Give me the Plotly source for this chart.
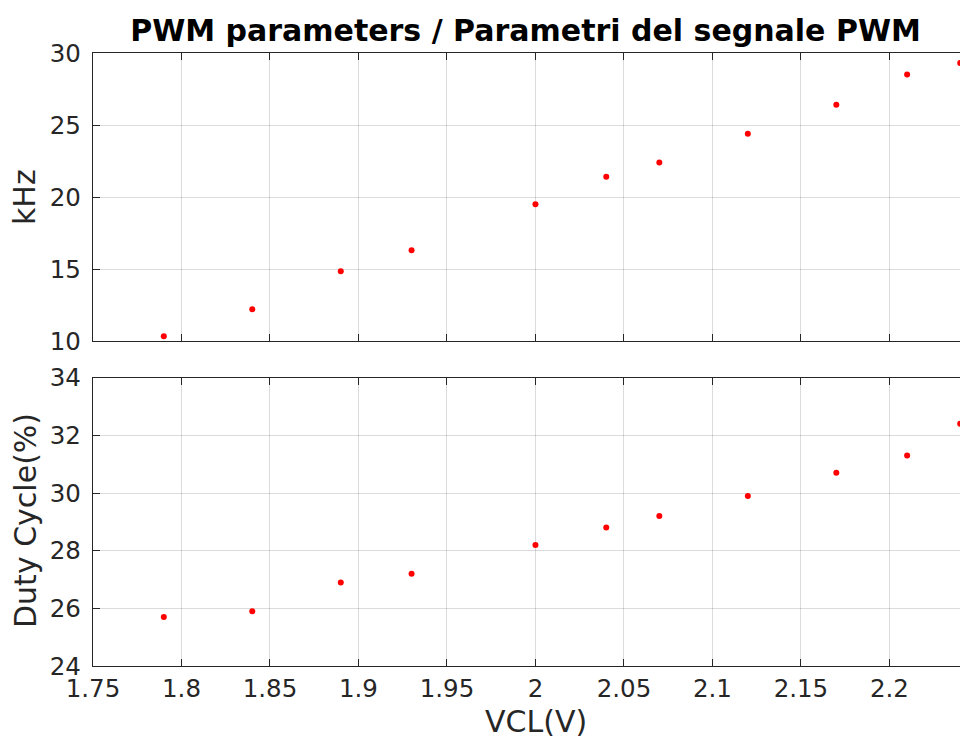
import plotly.graph_objects as go
from plotly.subplots import make_subplots

vcl = [1.79, 1.84, 1.89, 1.93, 2.00, 2.04, 2.07, 2.12, 2.17, 2.21, 2.24]
freq_khz = [10.33, 12.2, 14.85, 16.3, 19.5, 21.4, 22.4, 24.4, 26.4, 28.5, 29.3]
duty = [25.7, 25.9, 26.9, 27.2, 28.2, 28.8, 29.2, 29.9, 30.7, 31.3, 32.4]

x_ticks = [1.75, 1.8, 1.85, 1.9, 1.95, 2.0, 2.05, 2.1, 2.15, 2.2]
x_labels = ["1.75", "1.8", "1.85", "1.9", "1.95", "2", "2.05", "2.1", "2.15", "2.2"]
y1_ticks = [10, 15, 20, 25, 30]
y2_ticks = [24, 26, 28, 30, 32, 34]

title_text = "PWM parameters / Parametri del segnale PWM"
xlabel = "VCL(V)"
y1label = "kHz"
y2label = "Duty Cycle(%)"

FONT = "DejaVu Sans"
INK = "#262626"
GRID = "rgba(0,0,0,0.14)"

# page has an 8px body margin; figure is sized/offset to fill the window
OFF = 8
W, H = 968 - OFF, 740 - OFF
ML, MR, MT = 93 - OFF, 0, 53 - OFF
MB = H - (666 - OFF)
PW = W - ML - MR
PH = H - MT - MB


def px_x(page_x):
    return (page_x - OFF - ML) / PW


def px_y(page_y):
    return (H - MB - (page_y - OFF)) / PH


fig = make_subplots(rows=2, cols=1, shared_xaxes=False)

fig.add_trace(go.Scatter(x=vcl, y=freq_khz, mode="markers",
                         marker=dict(color="#ff0000", size=6),
                         showlegend=False, cliponaxis=False), row=1, col=1)
fig.add_trace(go.Scatter(x=vcl, y=duty, mode="markers",
                         marker=dict(color="#ff0000", size=6),
                         showlegend=False, cliponaxis=False), row=2, col=1)

top_dom = [px_y(341), 1.0]
bot_dom = [0.0, px_y(377.7)]

axis_common = dict(
    showline=True, linecolor=INK, linewidth=1.3,
    ticks="inside", ticklen=7, tickwidth=1.3, tickcolor=INK,
    showgrid=True, gridcolor=GRID, gridwidth=1,
    zeroline=False,
    tickfont=dict(family=FONT, size=24.5, color=INK),
)

fig.update_xaxes(range=[1.75, 2.2444], tickvals=x_ticks, ticktext=x_labels,
                 domain=[0, 1], mirror="ticks", **axis_common)
fig.update_xaxes(showticklabels=False, row=1, col=1)
fig.update_xaxes(ticklabelstandoff=0, row=2, col=1)

fig.update_yaxes(mirror=False, **axis_common)
fig.update_yaxes(range=[10, 30], tickvals=y1_ticks, domain=top_dom,
                 ticklabelstandoff=6, row=1, col=1)
fig.update_yaxes(range=[24, 34], tickvals=y2_ticks, domain=bot_dom,
                 ticklabelstandoff=6, row=2, col=1)

fig.update_layout(
    width=W, height=H,
    margin=dict(l=ML, r=MR, t=MT, b=MB, pad=0, autoexpand=False),
    paper_bgcolor="white", plot_bgcolor="white",
    font=dict(family=FONT, color=INK),
    title=dict(text="<b>" + title_text + "</b>", x=(525.5 - OFF) / W,
               xanchor="center", xref="container",
               y=1 - (30 - OFF) / H, yanchor="middle", yref="container",
               font=dict(family=FONT, size=30, color="#000000")),
)

fig.add_annotation(text=xlabel, xref="paper", yref="paper",
                   x=px_x(536), y=px_y(721),
                   xanchor="center", yanchor="middle", showarrow=False,
                   font=dict(family=FONT, size=30, color=INK))
fig.add_annotation(text=y1label, xref="paper", yref="paper",
                   x=px_x(24), y=px_y(197),
                   xanchor="center", yanchor="middle", showarrow=False,
                   textangle=-90,
                   font=dict(family=FONT, size=30, color=INK))
fig.add_annotation(text=y2label, xref="paper", yref="paper",
                   x=px_x(25), y=px_y(521),
                   xanchor="center", yanchor="middle", showarrow=False,
                   textangle=-90,
                   font=dict(family=FONT, size=30, color=INK))

fig.write_html("out.html")
